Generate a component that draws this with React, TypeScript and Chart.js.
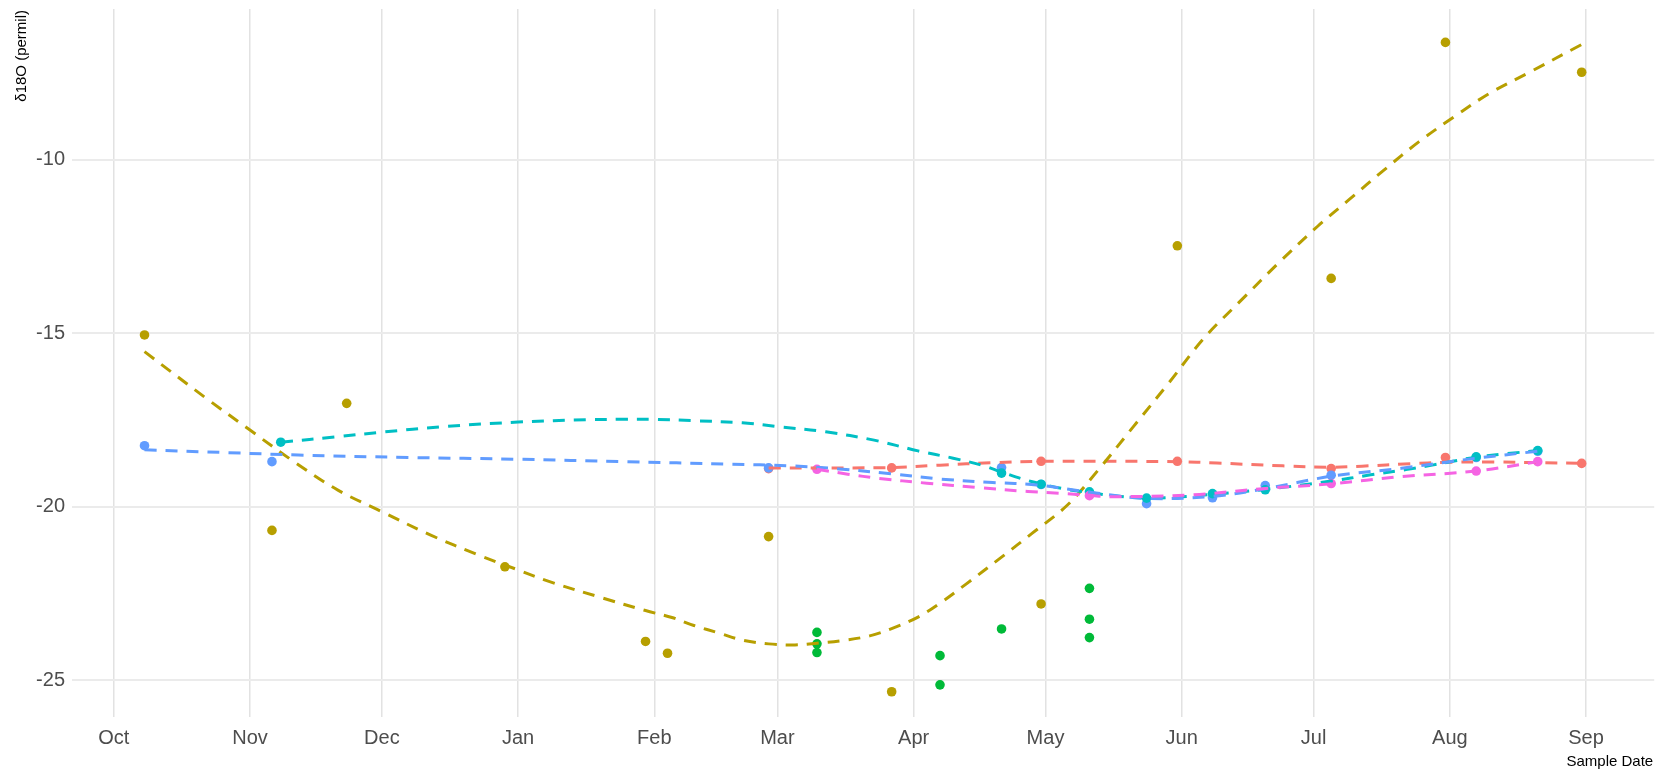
import { useEffect, useRef } from "react";
import { Chart, registerables } from "chart.js";

Chart.register(...registerables);

// Sampling dates are turned into day offsets from 1 Oct 2018 for a linear axis.
const ORIGIN = Date.UTC(2018, 9, 1);
const dayOf = (s: string): number => {
  const [y, m, d] = s.split("-").map(Number);
  return (Date.UTC(y, m - 1, d) - ORIGIN) / 86400000;
};

const monthStarts = [
  "2018-10-01", "2018-11-01", "2018-12-01", "2019-01-01", "2019-02-01", "2019-03-01",
  "2019-04-01", "2019-05-01", "2019-06-01", "2019-07-01", "2019-08-01", "2019-09-01",
];
const monthLabels = ["Oct", "Nov", "Dec", "Jan", "Feb", "Mar", "Apr", "May", "Jun", "Jul", "Aug", "Sep"];
const yTicks = [-25, -20, -15, -10];

// Measured δ18O samples per site
const redDates = ["2019-02-27", "2019-03-27", "2019-04-30", "2019-05-31", "2019-07-05", "2019-07-31", "2019-08-31"];
const redValues = [-18.9, -18.88, -18.69, -18.69, -18.9, -18.58, -18.75];

const oliveDates = [
  "2018-10-08", "2018-11-06", "2018-11-23", "2018-12-29", "2019-01-30", "2019-02-04", "2019-02-27",
  "2019-03-27", "2019-04-30", "2019-05-31", "2019-07-05", "2019-07-31", "2019-08-31",
];
const oliveValues = [-15.05, -20.68, -17.02, -21.73, -23.88, -24.22, -20.86, -25.33, -22.8, -12.48, -13.42, -6.62, -7.48];

const greenDates = [
  "2019-03-10", "2019-03-10", "2019-03-10", "2019-04-07", "2019-04-07",
  "2019-04-21", "2019-05-11", "2019-05-11", "2019-05-11",
];
const greenValues = [-23.62, -23.95, -24.2, -24.29, -25.13, -23.52, -22.35, -23.24, -23.77];

const cyanDates = [
  "2018-11-08", "2019-04-21", "2019-04-30", "2019-05-11", "2019-05-24",
  "2019-06-08", "2019-06-20", "2019-08-07", "2019-08-21",
];
const cyanValues = [-18.14, -19.03, -19.35, -19.57, -19.75, -19.62, -19.51, -18.56, -18.38];

const blueDates = [
  "2018-10-08", "2018-11-06", "2019-02-27", "2019-04-21", "2019-04-30", "2019-05-24",
  "2019-06-08", "2019-06-20", "2019-07-05", "2019-08-07", "2019-08-21",
];
const blueValues = [-18.24, -18.7, -18.88, -18.87, -19.36, -19.91, -19.74, -19.39, -19.09, -18.58, -18.4];

const magentaDates = ["2019-03-10", "2019-05-11", "2019-07-05", "2019-08-07", "2019-08-21"];
const magentaValues = [-18.92, -19.68, -19.33, -18.97, -18.7];

// Smoothed trend per site
const redTrendDates = [
  "2019-02-27", "2019-03-27", "2019-04-07", "2019-04-19", "2019-04-30", "2019-05-31", "2019-06-09",
  "2019-06-24", "2019-07-05", "2019-07-12", "2019-07-23", "2019-07-31", "2019-08-11", "2019-08-22", "2019-08-31",
];
const redTrendValues = [
  -18.88, -18.87, -18.8, -18.73, -18.69, -18.7, -18.74,
  -18.82, -18.86, -18.83, -18.76, -18.72, -18.71, -18.73, -18.75,
];

const oliveTrendDates = [
  "2018-10-08", "2018-10-22", "2018-11-01", "2018-11-11", "2018-11-21", "2018-12-01", "2018-12-12",
  "2018-12-23", "2019-01-01", "2019-01-08", "2019-01-20", "2019-01-30", "2019-02-05", "2019-02-10",
  "2019-02-16", "2019-02-21", "2019-02-27", "2019-03-05", "2019-03-10", "2019-03-16", "2019-03-22",
  "2019-03-27", "2019-04-02", "2019-04-07", "2019-04-13", "2019-04-21", "2019-04-28", "2019-05-06",
  "2019-05-13", "2019-05-21", "2019-05-29", "2019-06-06", "2019-06-15", "2019-06-23", "2019-07-02",
  "2019-07-09", "2019-07-17", "2019-07-25", "2019-08-02", "2019-08-10", "2019-08-19", "2019-08-31",
];
const oliveTrendValues = [
  -15.53, -16.87, -17.79, -18.7, -19.52, -20.14, -20.81,
  -21.39, -21.82, -22.15, -22.62, -22.99, -23.19, -23.42,
  -23.65, -23.84, -23.95, -23.98, -23.93, -23.85, -23.72,
  -23.51, -23.18, -22.78, -22.22, -21.45, -20.76, -19.95,
  -18.94, -17.69, -16.44, -15.15, -13.99, -12.98, -11.91,
  -11.16, -10.3, -9.48, -8.76, -8.09, -7.49, -6.68,
];

const cyanTrendDates = [
  "2018-11-08", "2018-11-21", "2018-12-01", "2018-12-15", "2019-01-01", "2019-01-17", "2019-01-25",
  "2019-02-01", "2019-02-10", "2019-02-21", "2019-03-01", "2019-03-12", "2019-03-23", "2019-04-02",
  "2019-04-10", "2019-04-17", "2019-04-21", "2019-04-28", "2019-05-06", "2019-05-11", "2019-05-17",
  "2019-05-24", "2019-06-01", "2019-06-08", "2019-06-20", "2019-07-05", "2019-07-14", "2019-07-22",
  "2019-07-28", "2019-08-02", "2019-08-07", "2019-08-14", "2019-08-21",
];
const cyanTrendValues = [
  -18.14, -17.98, -17.85, -17.69, -17.56, -17.49, -17.48,
  -17.48, -17.52, -17.58, -17.69, -17.84, -18.08, -18.39,
  -18.6, -18.82, -19.0, -19.28, -19.5, -19.59, -19.69,
  -19.75, -19.71, -19.64, -19.5, -19.26, -19.08, -18.93,
  -18.8, -18.68, -18.57, -18.47, -18.38,
];

const blueTrendDates = [
  "2018-10-08", "2018-10-27", "2018-11-12", "2018-12-07", "2019-01-01", "2019-01-25", "2019-02-18",
  "2019-03-04", "2019-03-15", "2019-03-27", "2019-04-07", "2019-04-19", "2019-04-29", "2019-05-11",
  "2019-05-24", "2019-06-08", "2019-06-20", "2019-07-05", "2019-07-21", "2019-08-01", "2019-08-07", "2019-08-21",
];
const blueTrendValues = [
  -18.36, -18.44, -18.51, -18.58, -18.63, -18.7, -18.77,
  -18.82, -18.91, -19.05, -19.2, -19.3, -19.37, -19.58,
  -19.76, -19.7, -19.48, -19.12, -18.89, -18.7, -18.6, -18.4,
];

const magentaTrendDates = [
  "2019-03-10", "2019-03-17", "2019-03-24", "2019-04-04", "2019-04-16", "2019-04-27", "2019-05-04",
  "2019-05-11", "2019-05-16", "2019-06-03", "2019-06-20", "2019-07-05", "2019-07-21", "2019-08-07", "2019-08-21",
];
const magentaTrendValues = [
  -18.92, -19.06, -19.18, -19.32, -19.45, -19.56, -19.61,
  -19.67, -19.71, -19.66, -19.47, -19.34, -19.13, -18.97, -18.7,
];

const COLORS = {
  red: "#F8766D",
  olive: "#B79F00",
  green: "#00BA38",
  cyan: "#00BFC4",
  blue: "#619CFF",
  magenta: "#F564E3",
};

const FONT = '"Liberation Sans", Arial, sans-serif';

const toPoints = (dates: string[], values: number[]) =>
  dates.map((d, i) => ({ x: dayOf(d), y: values[i] }));

const pointSet = (label: string, dates: string[], values: number[], color: string, order: number) => ({
  label,
  data: toPoints(dates, values),
  showLine: false,
  backgroundColor: color,
  borderColor: color,
  borderWidth: 0,
  pointRadius: 4.8,
  pointHoverRadius: 4.8,
  order,
});

const trendSet = (label: string, dates: string[], values: number[], color: string, order: number) => ({
  label,
  data: toPoints(dates, values),
  showLine: true,
  borderColor: color,
  backgroundColor: color,
  borderWidth: 3,
  borderDash: [12, 9],
  borderCapStyle: "butt" as const,
  tension: 0.35,
  pointRadius: 0,
  pointHoverRadius: 0,
  order,
});

// Axis titles: rotated y title pinned to the top of the panel, x title at the bottom right.
const axisTitles = {
  id: "axisTitles",
  afterDraw(chart: Chart) {
    const { ctx, chartArea } = chart;
    ctx.save();
    ctx.fillStyle = "#000000";
    ctx.font = `15px ${FONT}`;
    ctx.translate(22, chartArea.top + 1);
    ctx.rotate(-Math.PI / 2);
    ctx.textAlign = "right";
    ctx.textBaseline = "middle";
    ctx.fillText("δ18O (permil)", 0, 0);
    ctx.restore();

    ctx.save();
    ctx.fillStyle = "#000000";
    ctx.font = `15px ${FONT}`;
    ctx.textAlign = "right";
    ctx.textBaseline = "middle";
    ctx.fillText("Sample Date", chartArea.right - 1, 762);
    ctx.restore();
  },
};

export default function App() {
  const canvasRef = useRef<HTMLCanvasElement | null>(null);

  useEffect(() => {
    document.body.style.margin = "0";
    const canvas = canvasRef.current;
    if (!canvas) return;
    const monthDays = monthStarts.map(dayOf);

    const chart = new Chart(canvas, {
      type: "scatter",
      data: {
        datasets: [
          trendSet("red trend", redTrendDates, redTrendValues, COLORS.red, 6),
          trendSet("olive trend", oliveTrendDates, oliveTrendValues, COLORS.olive, 5),
          trendSet("cyan trend", cyanTrendDates, cyanTrendValues, COLORS.cyan, 4),
          trendSet("blue trend", blueTrendDates, blueTrendValues, COLORS.blue, 3),
          trendSet("magenta trend", magentaTrendDates, magentaTrendValues, COLORS.magenta, 2),
          pointSet("red", redDates, redValues, COLORS.red, 26),
          pointSet("olive", oliveDates, oliveValues, COLORS.olive, 25),
          pointSet("green", greenDates, greenValues, COLORS.green, 24),
          pointSet("blue", blueDates, blueValues, COLORS.blue, 23),
          pointSet("cyan", cyanDates, cyanValues, COLORS.cyan, 22),
          pointSet("magenta", magentaDates, magentaValues, COLORS.magenta, 21),
        ],
      },
      options: {
        responsive: false,
        animation: false,
        layout: { padding: { top: 9, right: 2, left: 0, bottom: 0 } },
        plugins: {
          legend: { display: false },
          tooltip: { enabled: false },
        },
        scales: {
          x: {
            type: "linear",
            min: -9.5,
            max: 350.5,
            afterBuildTicks: (scale: any) => {
              scale.ticks = monthDays.map((v) => ({ value: v }));
            },
            afterFit: (scale: any) => {
              scale.height = 53;
              scale.paddingLeft = 0;
              scale.paddingRight = 0;
            },
            ticks: {
              autoSkip: false,
              maxRotation: 0,
              padding: 9,
              color: "#4D4D4D",
              font: { family: FONT, size: 20 },
              callback: (value: any) => {
                const i = monthDays.indexOf(Number(value));
                return i >= 0 ? monthLabels[i] : "";
              },
            },
            grid: { color: "#E2E2E2", lineWidth: 1.5, drawTicks: false },
            border: { display: false },
          },
          y: {
            type: "linear",
            min: -26.057,
            max: -5.658,
            afterBuildTicks: (scale: any) => {
              scale.ticks = yTicks.map((v) => ({ value: v }));
            },
            afterFit: (scale: any) => {
              scale.width = 72;
              scale.paddingTop = 0;
              scale.paddingBottom = 0;
            },
            ticks: {
              padding: 7,
              color: "#4D4D4D",
              font: { family: FONT, size: 20 },
              callback: (value: any) => String(value),
            },
            grid: { color: "#EBEBEB", lineWidth: 2, drawTicks: false },
            border: { display: false },
          },
        },
      },
      plugins: [axisTitles],
    });

    return () => chart.destroy();
  }, []);

  return (
    <div style={{ width: 1659, height: 770, background: "#FFFFFF" }}>
      <canvas ref={canvasRef} width={1659} height={770} style={{ display: "block" }} />
    </div>
  );
}
